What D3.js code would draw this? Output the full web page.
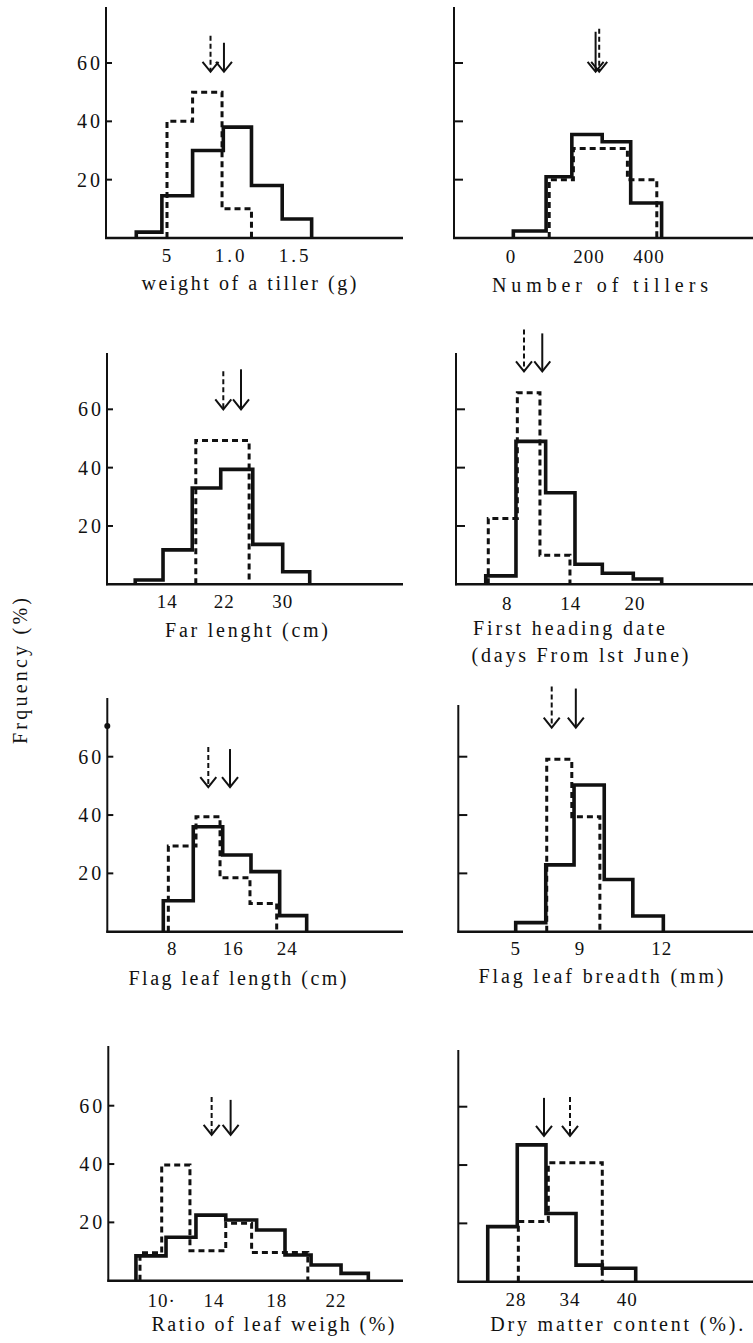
<!DOCTYPE html>
<html>
<head>
<meta charset="utf-8">
<script src="https://cdn.jsdelivr.net/npm/d3@7"></script>
<style>
  body { margin: 0; background: #fff; }
  svg { display: block; }
  text { font-family: "Liberation Serif", "DejaVu Serif", serif; fill: #111; }
</style>
</head>
<body>
<div id="chart"></div>
<script>
// ---- data ----
var titles = [
    ["weight of a tiller (g)"],
    ["Number of tillers"],
    ["Far lenght (cm)"],
    ["First heading date", "(days From lst June)"],
    ["Flag leaf length (cm)"],
    ["Flag leaf breadth (mm)"],
    ["Ratio of leaf weigh (%)"],
    ["Dry matter content (%)."]
];
var xTickValues = [
    [0.5, 1.0, 1.5],
    [0, 200, 400],
    [14, 22, 30],
    [8, 14, 20],
    [8, 16, 24],
    [5, 9, 12],
    [10, 14, 18, 22],
    [28, 34, 40]
];
var xTickLabels = [
    ["5", "1.0", "1.5"],
    ["0", "200", "400"],
    ["14", "22", "30"],
    ["8", "14", "20"],
    ["8", "16", "24"],
    ["5", "9", "12"],
    ["10·", "14", "18", "22"],
    ["28", "34", "40"]
];
var yTicks = [20, 40, 60];

// solid line histograms: bin edges and frequency (%)
var solidEdges = [
    [0.26, 0.46, 0.70, 0.94, 1.16, 1.40, 1.63],
    [6, 90, 156, 244, 339, 442],
    [9.5, 13.4, 17.5, 21.5, 25.9, 30.0, 33.7],
    [5.96, 8.82, 11.63, 14.40, 16.95, 19.84, 22.49],
    [6.82, 10.75, 14.61, 18.62, 22.87, 26.87],
    [5.0, 6.87, 8.63, 9.89, 10.94, 12.06],
    [8.03, 10.33, 12.62, 14.75, 16.72, 18.56, 20.32, 22.34, 24.18],
    [24.86, 28.14, 31.33, 34.63, 37.38, 40.88]
];
var solidFreq = [
    [2, 14.5, 30, 38, 18, 6.5],
    [2.4, 21, 35.5, 33, 12],
    [1.5, 11.8, 33, 39.4, 13.7, 4.3],
    [2.9, 49, 31.4, 6.9, 3.8, 1.8],
    [10.6, 36, 26.3, 20.6, 5.5],
    [3.1, 22.9, 50.3, 17.9, 5.4],
    [8.5, 14.9, 22.5, 20.8, 17.4, 8.8, 5.4, 2.5],
    [18.9, 46.9, 23.4, 5.7, 4.6]
];
// dashed line histograms
var dashedEdges = [
    [0.50, 0.70, 0.93, 1.16],
    [98, 160, 328, 426],
    [18.0, 25.4],
    [6.20, 8.95, 11.09, 13.93],
    [7.48, 11.11, 14.26, 18.47, 22.43],
    [6.93, 8.49, 9.73],
    [8.34, 10.0, 12.16, 14.75, 16.40, 20.10],
    [28.26, 31.59, 37.38]
];
var dashedFreq = [
    [40, 50, 10],
    [20, 30.7, 20],
    [49.3],
    [22.6, 65.7, 10],
    [29.4, 39.4, 18.5, 9.7],
    [59.1, 39.4],
    [9.6, 39.7, 10.3, 19.7, 9.7],
    [20.6, 40.8]
];
// means (arrows) and the level their tips point at
var meanSolid = [0.945, 222, 24.29, 11.31, 15.57, 8.74, 15.06, 31.11];
var meanDashed = [0.84, 234, 21.86, 9.58, 12.72, 7.24, 13.82, 34.0];
var arrowLevel = [57, 57, 60, 73, 49.6, 70, 50, 50];

// ---- layout ----
var W = 753, H = 1343;
var pxPerPct = 58.33 / 20;
var panels = [
    { ax: 106, base: 238, top: 7, xEnd: 403, xPx: [167, 231, 295], left: true, tickY: 262, titleX: [249], titleY: [290], titleW: [215], arrowLen: [29, 36] },
    { ax: 454, base: 238, top: 7, xEnd: 753, xPx: [511, 589, 649], left: false, tickY: 263, titleX: [600], titleY: [291.5], titleW: [216], arrowLen: [40, 43] },
    { ax: 107, base: 584.3, top: 353, xEnd: 403, xPx: [167.3, 224.3, 282.7], left: true, tickY: 608, titleX: [246.5], titleY: [637], titleW: [163], arrowLen: [40, 38] },
    { ax: 456, base: 584.3, top: 353, xEnd: 753, xPx: [507.3, 570.7, 635], left: false, tickY: 610, titleX: [569, 580], titleY: [635, 662], titleW: [192, 217], arrowLen: [38, 42] },
    { ax: 107.3, base: 931.7, top: 698, xEnd: 403, xPx: [172.3, 233.3, 287.3], left: true, tickY: 955, titleX: [237.5], titleY: [985], titleW: [218], arrowLen: [38, 40] },
    { ax: 458.3, base: 931.7, top: 705, xEnd: 753, xPx: [515.7, 580, 661.7], left: false, tickY: 955, titleX: [601], titleY: [983], titleW: [245], arrowLen: [39, 41] },
    { ax: 108.3, base: 1280.7, top: 1046, xEnd: 403, xPx: [161.7, 214, 276.7, 336], left: true, tickY: 1307, titleX: [273], titleY: [1331], titleW: [243], arrowLen: [35, 38] },
    { ax: 458.3, base: 1281.7, top: 1050, xEnd: 753, xPx: [516, 570, 627.3], left: false, tickY: 1306, titleX: [616.7], titleY: [1331], titleW: [253], arrowLen: [38, 39] }
];

var svg = d3.select("#chart")
    .append("svg")
    .attr("width", W)
    .attr("height", H);

// y axis title
svg.append("text")
    .attr("transform", "translate(27,671) rotate(-90)")
    .attr("text-anchor", "middle")
    .attr("font-size", "20px")
    .attr("textLength", 146)
    .attr("lengthAdjust", "spacing")
    .text("Frquency (%)");

function stepPoints(edges, freq) {
    var pts = [[edges[0], 0]];
    for (var i = 0; i < freq.length; i++) {
        pts.push([edges[i], freq[i]]);
        pts.push([edges[i + 1], freq[i]]);
    }
    pts.push([edges[edges.length - 1], 0]);
    return pts;
}

panels.forEach(function (p, i) {
    var g = svg.append("g");

    var x = d3.scaleLinear().domain(xTickValues[i]).range(p.xPx);
    var y = d3.scaleLinear().domain([0, 60]).range([p.base, p.base - 60 * pxPerPct]);

    var line = d3.line()
        .x(function (d) { return x(d[0]); })
        .y(function (d) { return y(d[1]); });

    // axes
    g.append("line")
        .attr("x1", p.ax).attr("x2", p.ax)
        .attr("y1", p.base + 1).attr("y2", p.top)
        .attr("stroke", "#111").attr("stroke-width", 2);
    g.append("line")
        .attr("x1", p.ax - 1).attr("x2", p.xEnd)
        .attr("y1", p.base).attr("y2", p.base)
        .attr("stroke", "#111").attr("stroke-width", 2.5);

    // y ticks (inward)
    g.selectAll(".ytick")
        .data(yTicks)
        .enter()
        .append("line")
        .attr("x1", p.ax)
        .attr("x2", p.ax + (p.left ? 6 : 9))
        .attr("y1", function (d) { return y(d); })
        .attr("y2", function (d) { return y(d); })
        .attr("stroke", "#111").attr("stroke-width", 2);

    if (p.left) {
        g.selectAll(".ylab")
            .data(yTicks)
            .enter()
            .append("text")
            .attr("x", p.ax - 3)
            .attr("y", function (d) { return y(d) + 7; })
            .attr("text-anchor", "end")
            .attr("font-size", "20px")
            .attr("letter-spacing", "3px")
            .text(function (d) { return d; });
    }

    // x tick labels
    g.selectAll(".xlab")
        .data(xTickValues[i])
        .enter()
        .append("text")
        .attr("x", function (d) { return x(d); })
        .attr("y", p.tickY)
        .attr("text-anchor", "middle")
        .attr("font-size", "19px")
        .attr("letter-spacing", function (d, j) { return xTickLabels[i][j].indexOf(".") > 0 ? "3px" : "1px"; })
        .text(function (d, j) { return xTickLabels[i][j]; });

    // axis title
    titles[i].forEach(function (t, k) {
        g.append("text")
            .attr("x", p.titleX[k] - p.titleW[k] / 2)
            .attr("y", p.titleY[k])
            .attr("font-size", "20px")
            .attr("textLength", p.titleW[k])
            .attr("lengthAdjust", "spacing")
            .text(t);
    });

    // histograms
    g.append("path")
        .attr("d", line(stepPoints(dashedEdges[i], dashedFreq[i])))
        .attr("fill", "none")
        .attr("stroke", "#111")
        .attr("stroke-width", 3)
        .attr("stroke-dasharray", "6,4");
    g.append("path")
        .attr("d", line(stepPoints(solidEdges[i], solidFreq[i])))
        .attr("fill", "none")
        .attr("stroke", "#111")
        .attr("stroke-width", 3.6)
        .attr("stroke-linejoin", "miter");

    // mean arrows
    var arrows = [
        { v: meanSolid[i], dashed: false, len: p.arrowLen[0] },
        { v: meanDashed[i], dashed: true, len: p.arrowLen[1] }
    ];
    arrows.forEach(function (a) {
        var ax = x(a.v), ty = y(arrowLevel[i]);
        g.append("line")
            .attr("x1", ax).attr("x2", ax)
            .attr("y1", ty - a.len).attr("y2", ty - 1)
            .attr("stroke", "#111")
            .attr("stroke-width", 2)
            .attr("stroke-dasharray", a.dashed ? "5,3" : null);
        g.append("path")
            .attr("d", "M" + (ax - 8) + "," + (ty - 10) + "L" + ax + "," + ty + "L" + (ax + 8) + "," + (ty - 10))
            .attr("fill", "none")
            .attr("stroke", "#111")
            .attr("stroke-width", 2);
    });
});

// stray ink dot on the flag leaf length axis
var p5 = panels[4];
svg.append("circle")
    .attr("cx", p5.ax)
    .attr("cy", d3.scaleLinear().domain([0, 60]).range([p5.base, p5.base - 60 * pxPerPct])(70.5))
    .attr("r", 3)
    .attr("fill", "#111");
</script>
</body>
</html>
